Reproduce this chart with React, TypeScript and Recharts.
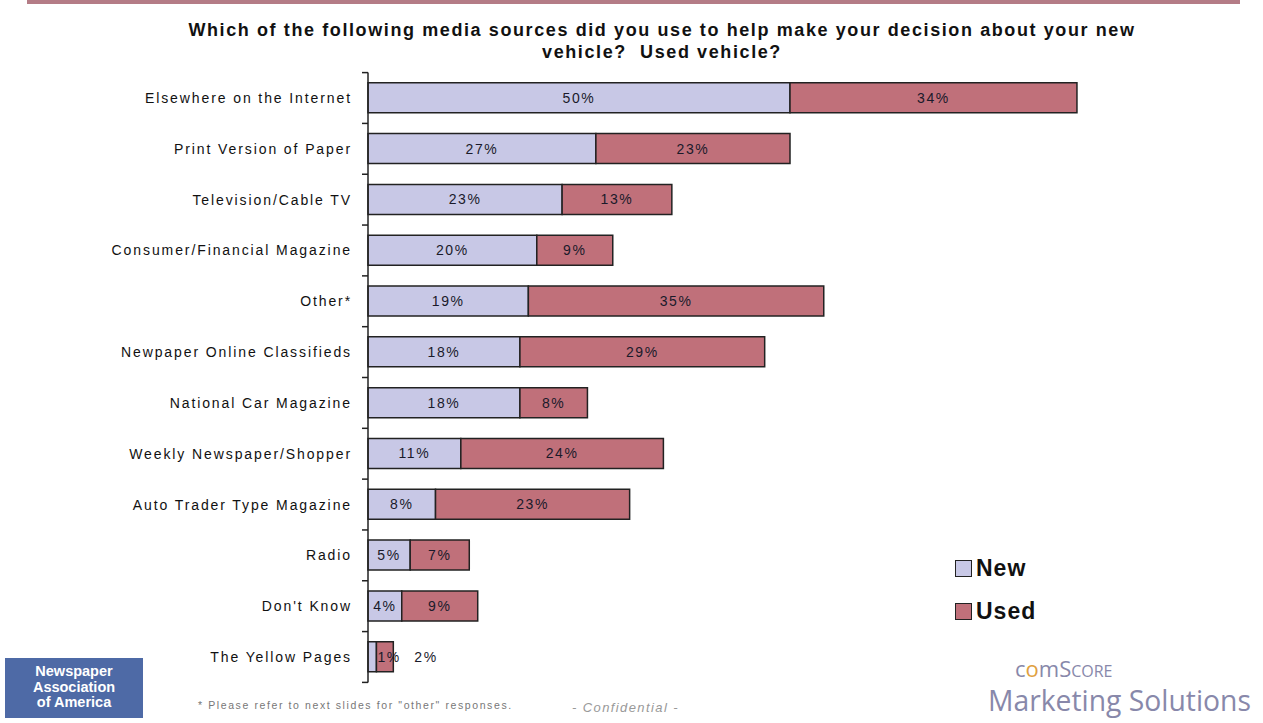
import React from "react";
import { BarChart, Bar, XAxis, YAxis, LabelList, Legend } from "recharts";

const categories = [
  "Elsewhere on the Internet",
  "Print Version of Paper",
  "Television/Cable TV",
  "Consumer/Financial Magazine",
  "Other*",
  "Newpaper Online Classifieds",
  "National Car Magazine",
  "Weekly Newspaper/Shopper",
  "Auto Trader Type Magazine",
  "Radio",
  "Don't Know",
  "The Yellow Pages",
];
const newValues = [50, 27, 23, 20, 19, 18, 18, 11, 8, 5, 4, 1];
const usedValues = [34, 23, 13, 9, 35, 29, 8, 24, 23, 7, 9, 2];

const data = categories.map((c, i) => ({ name: c, New: newValues[i], Used: usedValues[i] }));

const W = 1263;
const H = 723;
const TOP = 72.6;
const BOTTOM = 40.6;
const BAND = (H - TOP - BOTTOM) / categories.length;

const NEW_COLOR = "#c8c8e6";
const USED_COLOR = "#c0707a";
const LABEL_FONT = "'Liberation Sans', Arial, sans-serif";

const CategoryTick = (props: any) => {
  const { x, y, payload, index } = props;
  const axisX = x + 8;
  const top = y - BAND / 2;
  return (
    <g>
      <line x1={axisX - 6} x2={axisX} y1={top} y2={top} stroke="#222" strokeWidth={1.5} />
      {index === categories.length - 1 && (
        <line x1={axisX - 6} x2={axisX} y1={y + BAND / 2} y2={y + BAND / 2} stroke="#222" strokeWidth={1.5} />
      )}
      <text
        x={axisX - 16}
        y={y}
        dy={5}
        textAnchor="end"
        fontFamily={LABEL_FONT}
        fontSize={14}
        letterSpacing={1.9}
        fill="#111"
      >
        {payload.value}
      </text>
    </g>
  );
};

const makeLabel = (extra: number) => (props: any) => {
  const { x, y, width, height, value } = props;
  const narrow = width < 20;
  const tx = narrow ? x + width + extra : x + width / 2;
  return (
    <text
      x={tx}
      y={y + height / 2}
      dy={5}
      textAnchor={narrow ? "start" : "middle"}
      fontFamily={LABEL_FONT}
      fontSize={14}
      letterSpacing={1.6}
      fill="#1a1a2a"
    >
      {value}%
    </text>
  );
};

const LegendContent = () => (
  <div style={{ fontFamily: LABEL_FONT, fontWeight: "bold", fontSize: 23, letterSpacing: 1, color: "#111" }}>
    <div style={{ display: "flex", alignItems: "center", height: 30 }}>
      <span style={{ display: "inline-block", width: 15, height: 15, background: NEW_COLOR, border: "1.5px solid #222", marginRight: 4 }} />
      New
    </div>
    <div style={{ display: "flex", alignItems: "center", height: 30, marginTop: 13 }}>
      <span style={{ display: "inline-block", width: 15, height: 15, background: USED_COLOR, border: "1.5px solid #222", marginRight: 4 }} />
      Used
    </div>
  </div>
);

export default function App() {
  return (
    <div style={{ position: "absolute", left: 0, top: 0, width: W, height: H, background: "#fff", overflow: "hidden" }}>
      <div style={{ position: "absolute", left: 27, top: 0, width: 1213, height: 4, background: "#b47c86" }} />
      <div
        style={{
          position: "absolute",
          left: 112,
          top: 19,
          width: 1100,
          textAlign: "center",
          fontFamily: LABEL_FONT,
          fontWeight: "bold",
          fontSize: 18,
          letterSpacing: 1.6,
          lineHeight: "22px",
          color: "#111",
        }}
      >
        Which of the following media sources did you use to help make your decision about your new
        <br />
        vehicle?&nbsp; Used vehicle?
      </div>
      <div style={{ position: "absolute", left: 0, top: 0 }}>
        <BarChart
          width={W}
          height={H}
          data={data}
          layout="vertical"
          barCategoryGap="20%"
          margin={{ top: TOP, right: 51, bottom: BOTTOM, left: 0 }}
        >
          <XAxis type="number" domain={[0, 100]} hide />
          <YAxis
            type="category"
            dataKey="name"
            width={368}
            axisLine={{ stroke: "#222", strokeWidth: 1.5 }}
            tickLine={false}
            tick={<CategoryTick />}
            interval={0}
          />
          <Legend
            layout="vertical"
            verticalAlign="middle"
            align="center"
            wrapperStyle={{ left: 955, top: 553, width: 140 }}
            content={<LegendContent />}
          />
          <Bar dataKey="New" stackId="a" fill={NEW_COLOR} stroke="#222" strokeWidth={1.5} isAnimationActive={false}>
            <LabelList dataKey="New" content={makeLabel(1)} />
          </Bar>
          <Bar dataKey="Used" stackId="a" fill={USED_COLOR} stroke="#222" strokeWidth={1.5} isAnimationActive={false}>
            <LabelList dataKey="Used" content={makeLabel(21)} />
          </Bar>
        </BarChart>
      </div>
      <div
        style={{
          position: "absolute",
          left: 5,
          top: 658,
          width: 138,
          height: 60,
          background: "#4e6aa6",
          color: "#fff",
          fontFamily: LABEL_FONT,
          fontWeight: "bold",
          fontSize: 14.5,
          lineHeight: "15.5px",
          textAlign: "center",
          paddingTop: 6,
          boxSizing: "border-box",
        }}
      >
        Newspaper
        <br />
        Association
        <br />
        of America
      </div>
      <div
        style={{
          position: "absolute",
          left: 198,
          top: 699,
          fontFamily: LABEL_FONT,
          fontSize: 10.5,
          letterSpacing: 1.6,
          color: "#777",
        }}
      >
        * Please refer to next slides for "other" responses.
      </div>
      <div
        style={{
          position: "absolute",
          left: 572,
          top: 700,
          fontFamily: LABEL_FONT,
          fontStyle: "italic",
          fontSize: 13,
          letterSpacing: 1.4,
          color: "#999",
        }}
      >
        - Confidential -
      </div>
      <div
        style={{
          position: "absolute",
          left: 1015,
          top: 657,
          fontFamily: "'Open Sans', 'DejaVu Sans', sans-serif",
          fontSize: 22,
          lineHeight: "22px",
          color: "#8888aa",
        }}
      >
        c<span style={{ color: "#e0a040" }}>o</span>mS<span style={{ fontSize: 16 }}>CORE</span>
      </div>
      <div
        style={{
          position: "absolute",
          left: 988,
          top: 685,
          fontFamily: "'Open Sans', 'DejaVu Sans', sans-serif",
          fontSize: 28.3,
          lineHeight: "30px",
          color: "#8888aa",
        }}
      >
        Marketing Solutions
      </div>
    </div>
  );
}
